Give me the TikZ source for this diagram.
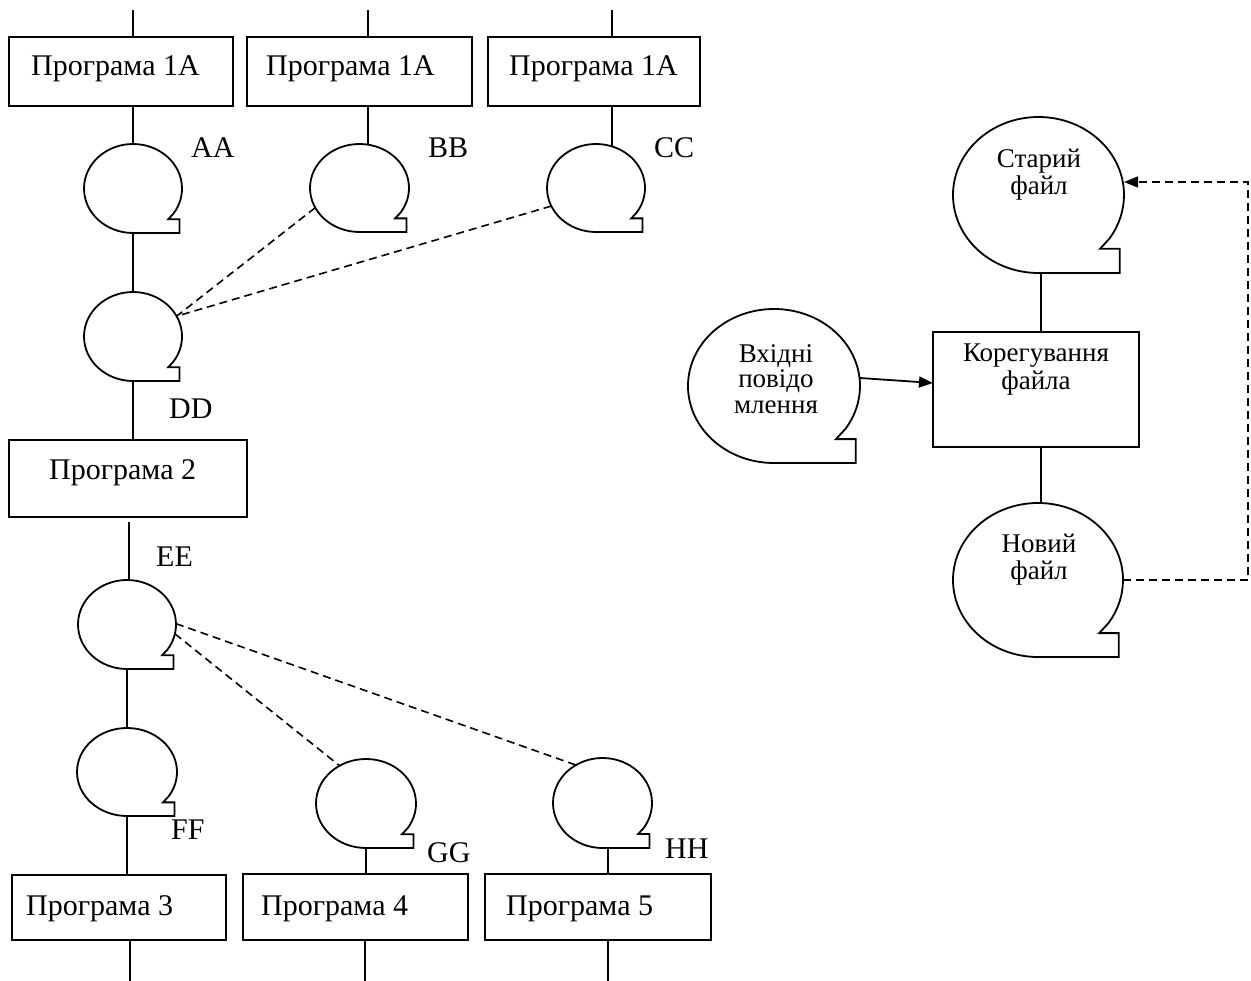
\documentclass[tikz,border=0pt]{standalone}
\usepackage{fontspec}
\setmainfont{Liberation Serif}
\usetikzlibrary{shapes.geometric,arrows.meta,calc}
\newcommand\tapenode[5]{%
  \node[tapebase, minimum width={2*#4}, minimum height={2*#5}] (#1) at (#2,#3) {};
  \draw[ln] (#2,{#3+#5}) arc[start angle=90, end angle=394, x radius=#4, y radius=#5]
    -- ({#2+0.72*#4},{#3+0.69*#5}) -- ({#2+0.95*#4},{#3+0.69*#5})
    -- ({#2+0.95*#4},{#3+#5}) -- cycle;
}
\begin{document}
\begin{tikzpicture}[x=1pt,y=-1pt,
  ln/.style={line width=1.8pt},
  dsh/.style={line width=1.6pt, dash pattern=on 8pt off 5pt},
  tapebase/.style={ellipse, draw=none, inner sep=0pt, outer sep=0pt},
  prog/.style={draw, line width=1.8pt, rectangle, inner sep=0pt, outer sep=0pt},
  ltxt/.style={anchor=base west, inner sep=0pt, font=\fontsize{30}{31}\selectfont},
  rtxt/.style={align=center, inner sep=0pt, font=\fontsize{27}{27}\selectfont},
  tip/.style={-{Triangle[length=14pt,width=11pt]}}]
\useasboundingbox (0,0) rectangle (1251,981);

% top row boxes
\node[prog, minimum width=224pt, minimum height=69pt] (P1a) at (121,71.5) {};
\node[prog, minimum width=225pt, minimum height=69pt] (P1b) at (359.5,71.5) {};
\node[prog, minimum width=212pt, minimum height=69pt] (P1c) at (594,71.5) {};
\node[ltxt] (P1at) at (31,76) {Програма 1А};
\node[ltxt] (P1bt) at (266,76) {Програма 1А};
\node[ltxt] (P1ct) at (509,76) {Програма 1А};

\coordinate (t1) at (133,10);
\coordinate (t2) at (368,10);
\coordinate (t3) at (612,10);
\draw[ln] (t1) -- (t1 |- P1a.north);
\draw[ln] (t2) -- (t2 |- P1b.north);
\draw[ln] (t3) -- (t3 |- P1c.north);

% tapes
\tapenode{AA}{133}{188.5}{49}{44.5}
\tapenode{BB}{359.5}{188}{49.5}{44}
\tapenode{CC}{596}{188}{49}{44}
\tapenode{DD}{133}{336.5}{49}{44.5}
\tapenode{EE}{127}{624.5}{49}{44.5}
\tapenode{FF}{127}{772}{50}{44}
\tapenode{GG}{366}{803.5}{50}{44.5}
\tapenode{HH}{602.5}{803}{49.5}{45}

\node[ltxt] (lAA) at (191,158) {AA};
\node[ltxt] (lBB) at (428,158) {BB};
\node[ltxt] (lCC) at (654,158) {CC};
\node[ltxt] (lDD) at (169,419) {DD};
\node[ltxt] (lEE) at (156,566) {EE};
\node[ltxt] (lFF) at (171,839) {FF};
\node[ltxt] (lGG) at (427,862) {GG};
\node[ltxt] (lHH) at (665,858) {HH};

\draw[ln] (AA.north) -- (AA.north |- P1a.south);
\draw[ln] ([xshift=8.5pt,yshift=-0.5pt]BB.north) -- ([xshift=8.5pt]BB.north |- P1b.south);
\draw[ln] ([xshift=16pt,yshift=-2pt]CC.north) -- ([xshift=16pt]CC.north |- P1c.south);
\draw[ln] (AA.south) -- (DD.north);

\draw[dsh] (BB.204) -- (DD.25);
\draw[dsh] (CC.202) -- (DD.25);

% Program 2
\node[prog, minimum width=238pt, minimum height=77pt] (P2) at (128,478.5) {};
\node[ltxt] (P2t) at (49,480) {Програма 2};
\draw[ln] (DD.south) -- (DD.south |- P2.north);
\draw[ln] ([xshift=2pt]EE.north) -- ([xshift=2pt,yshift=-5pt]EE.north |- P2.south);

\draw[dsh] (EE.1) -- (HH.125);
\draw[dsh] (EE.349) -- (GG.125);
\draw[ln] (EE.south) -- (FF.north);

% bottom row boxes
\node[prog, minimum width=214pt, minimum height=65pt] (P3) at (119,907.5) {};
\node[prog, minimum width=225pt, minimum height=66pt] (P4) at (355.5,907) {};
\node[prog, minimum width=226pt, minimum height=66pt] (P5) at (598,907) {};
\node[ltxt] (P3t) at (26,915) {Програма 3};
\node[ltxt] (P4t) at (261,915) {Програма 4};
\node[ltxt] (P5t) at (506,915) {Програма 5};

\draw[ln] (FF.south) -- (FF.south |- P3.north);
\draw[ln] (GG.south) -- (GG.south |- P4.north);
\draw[ln] ([xshift=5.5pt]HH.south) -- ([xshift=5.5pt]HH.south |- P5.north);

\coordinate (b1) at (130,981);
\coordinate (b2) at (365,981);
\coordinate (b3) at (608,981);
\draw[ln] (b1 |- P3.south) -- (b1);
\draw[ln] (b2 |- P4.south) -- (b2);
\draw[ln] (b3 |- P5.south) -- (b3);

% right part
\tapenode{old}{1038.5}{195}{85.5}{78}
\tapenode{new}{1038}{580}{85}{77}
\tapenode{inp}{774}{386}{86}{77}
\node[prog, minimum width=206pt, minimum height=115pt] (corr) at (1036,389.5) {};

\node[rtxt] (oldt) at (1039,175) {Старий\\файл};
\node[rtxt] (newt) at (1039,560) {Новий\\файл};
\node[rtxt, font=\fontsize{27}{25.5}\selectfont] (inpt) at (776,379) {Вхідні\\повідо\\млення};
\node[rtxt, font=\fontsize{27}{28}\selectfont] (corrt) at (1036,370) {Корегування\\файла};

\draw[ln] ([xshift=2.5pt]old.south) -- ([xshift=2.5pt]old.south |- corr.north);
\draw[ln] ([xshift=3pt]new.north) -- ([xshift=3pt]new.north |- corr.south);
\draw[ln, tip] ([yshift=8pt]inp.east) -- ([yshift=6.5pt]corr.west);

\coordinate (rc) at (1248,0);
\coordinate (oldin) at ([yshift=13pt]old.east);
\draw[dsh, tip] (new.east) -- (new.east -| rc) -- (oldin -| rc) -- (oldin);
\end{tikzpicture}
\end{document}
